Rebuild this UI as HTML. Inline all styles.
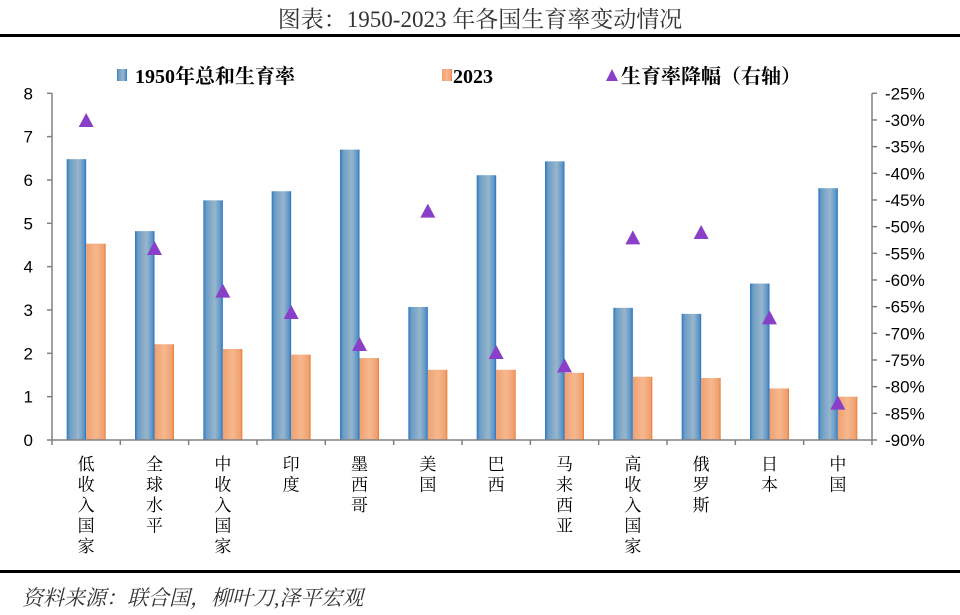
<!DOCTYPE html>
<html><head><meta charset="utf-8"><style>
html,body{margin:0;padding:0;background:#fff;}
svg{display:block;}
</style></head><body>
<svg id="chart" width="960" height="615" xmlns="http://www.w3.org/2000/svg">
<defs>
<linearGradient id="gb" x1="0" x2="1" y1="0" y2="0">
<stop offset="0" stop-color="#2a78c4"/><stop offset="0.15" stop-color="#6c9cc4"/><stop offset="0.6" stop-color="#98b6cc"/><stop offset="0.9" stop-color="#5a94c8"/><stop offset="1" stop-color="#1f6fc0"/>
</linearGradient>
<linearGradient id="go" x1="0" x2="1" y1="0" y2="0">
<stop offset="0" stop-color="#f0a070"/><stop offset="0.5" stop-color="#f5b88e"/><stop offset="0.9" stop-color="#f0a070"/><stop offset="1" stop-color="#e87a30"/>
</linearGradient>
</defs>
<text x="480" y="27" text-anchor="middle" font-family="'Liberation Serif','Noto Serif CJK SC',serif" font-size="23" fill="#333">图表：1950-2023 年各国生育率变动情况</text>
<rect x="0" y="34" width="960" height="3" fill="#000"/>
<g font-family="'Liberation Serif','Noto Serif CJK SC',serif" font-weight="bold" font-size="20" fill="#000">
<rect x="117" y="69" width="10" height="12" fill="url(#gb)"/>
<text x="135" y="83">1950年总和生育率</text>
<rect x="442" y="69" width="10" height="12" fill="url(#go)"/>
<text x="453" y="83">2023</text>
<polygon points="606,81 612,69 618,81" fill="#8a3fc8"/>
<text x="621" y="83">生育率降幅（右轴）</text>
</g>
<g id="plot"></g>
<rect x="0" y="570" width="960" height="3" fill="#000"/>
<text x="22" y="605" font-family="'Liberation Serif','Noto Serif CJK SC',serif" font-style="italic" font-size="21" fill="#333">资料来源：联合国，柳叶刀,泽平宏观</text>
</svg>
<script>
const categories=["低收入国家","全球水平","中收入国家","印度","墨西哥","美国","巴西","马来西亚","高收入国家","俄罗斯","日本","中国"];
const tfr1950=[6.48,4.82,5.53,5.74,6.70,3.07,6.11,6.43,3.05,2.91,3.61,5.81];
const tfr2023=[4.53,2.21,2.10,1.97,1.89,1.62,1.62,1.55,1.46,1.43,1.19,1.00];
const decline=[-30,-54,-62,-66,-72,-47,-73.5,-76,-52,-51,-67,-83];
const leftTicks=[0,1,2,3,4,5,6,7,8];
const rightTicks=[-25,-30,-35,-40,-45,-50,-55,-60,-65,-70,-75,-80,-85,-90];

const NS="http://www.w3.org/2000/svg";
const g=document.getElementById('plot');
const X0=52,X1=872,Y0=440,Y1=93.3;
const cw=(X1-X0)/categories.length;
const yL=v=>Y0-(v-0)/(8-0)*(Y0-Y1);
const yR=v=>Y0-(v-(-90))/((-25)-(-90))*(Y0-Y1);
const xc=i=>X0+cw*(i+0.5);
function mk(t,a){const e=document.createElementNS(NS,t);for(const k in a)e.setAttribute(k,a[k]);g.appendChild(e);return e;}
const font="'Liberation Sans','Noto Sans CJK SC',sans-serif";
// axes
let e=mk('line',{x1:X0,y1:Y1,x2:X0,y2:Y0,stroke:'#808080','stroke-width':1.5});


e=mk('line',{x1:X1,y1:Y1,x2:X1,y2:Y0,stroke:'#808080','stroke-width':1.5});


leftTicks.forEach(v=>{
  const t=mk('line',{x1:X0-5,x2:X0,y1:yL(v),y2:yL(v),stroke:'#808080','stroke-width':1.5});
  
  
  const l=mk('text',{x:X0-19,y:yL(v)+6,'text-anchor':'end','font-family':font,'font-size':17,fill:'#000'});
  l.textContent=v;
  
  
});
rightTicks.forEach(v=>{
  const t=mk('line',{x1:X1,x2:X1+5,y1:yR(v),y2:yR(v),stroke:'#808080','stroke-width':1.5});
  
  
  const l=mk('text',{x:X1+13,y:yR(v)+6,'font-family':font,'font-size':17,fill:'#000'});
  l.textContent=v+'%';
  
  
});
for(let i=0;i<=categories.length;i++){
  const x=X0+cw*i;
  const t=mk('line',{x1:x,x2:x,y1:Y0,y2:Y0+5,stroke:'#808080','stroke-width':1.5});
  
  
}
const bw=19.5;
categories.forEach((c,i)=>{
  const b=mk('rect',{x:xc(i)-bw,y:yL(tfr1950[i]),width:bw,height:Y0-yL(tfr1950[i]),fill:'url(#gb)'});
  
  
  const o=mk('rect',{x:xc(i),y:yL(tfr2023[i]),width:bw,height:Y0-yL(tfr2023[i]),fill:'url(#go)'});
  
  
});
mk('line',{x1:X0,y1:Y0,x2:X1,y2:Y0,stroke:'#808080','stroke-width':1.5});
categories.forEach((c,i)=>{
  const y=yR(decline[i]);const x=xc(i);
  const p=mk('polygon',{points:`${x-7.5},${y+7} ${x},${y-7} ${x+7.5},${y+7}`,fill:'#8a3fc8'});
  
  
  const t=mk('text',{x:x,y:470,'text-anchor':'middle','font-family':"'Liberation Serif','Noto Serif CJK SC',serif",'font-size':17,fill:'#000'});
  
  
  [...c].forEach((ch,k)=>{const s=document.createElementNS(NS,'tspan');s.setAttribute('x',x);s.setAttribute('y',470+k*20.5);s.textContent=ch;t.appendChild(s);});
});
</script>
</body></html>
